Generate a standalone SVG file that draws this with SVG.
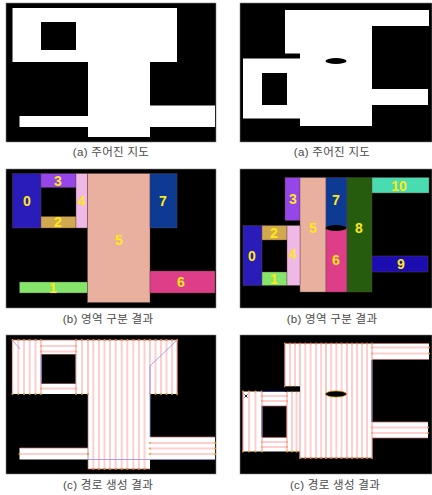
<svg xmlns="http://www.w3.org/2000/svg" width="432" height="495" viewBox="0 0 432 495">
<defs>
<filter id="soft" x="-2%" y="-2%" width="104%" height="104%"><feGaussianBlur stdDeviation="0.35"/></filter>
<marker id="dot" markerUnits="userSpaceOnUse" markerWidth="4" markerHeight="4" refX="2" refY="2"><circle cx="2" cy="2" r="1" fill="#e8a020"/></marker>
</defs>
<style>
.bg{fill:#000;stroke:#888;stroke-width:.6}
.w{fill:#fff}
.k{fill:#000}
.cap{font-family:"Liberation Sans","Noto Sans CJK KR",sans-serif;font-size:11.5px;letter-spacing:.3px;fill:#4a4a4a;text-anchor:middle}
.n{font-family:"Liberation Sans",sans-serif;font-size:14px;font-weight:bold;fill:#ffe81a;text-anchor:middle}
.r{stroke:#5a4040;stroke-width:.4}
.p{fill:none;stroke:#ffcfcf;stroke-width:2;marker-start:url(#dot);marker-mid:url(#dot);marker-end:url(#dot)}
.s{fill:none;stroke:#ffa4a4;stroke-width:1.2;marker-start:url(#dot);marker-mid:url(#dot);marker-end:url(#dot)}
.e{fill:none;stroke:#c06060;stroke-width:.7}
.b{fill:none;stroke:#8a8aee;stroke-width:.8}
.d{fill:none;stroke:#30308a;stroke-width:.9}
</style>
<rect width="432" height="495" fill="#fff"/>
<g id="map-a-left" filter="url(#soft)">
<rect class="bg" x="6" y="3" width="210" height="139"/>
<path class="w" d="M12.500 8H177V62H150V105.500H215V127H150V137H88V127H19.500V116H88V62H12.500Z"/>
<rect class="k" x="41" y="22" width="35" height="28"/>
</g>
<g id="map-a-right" filter="url(#soft)">
<rect class="bg" x="240" y="3" width="192" height="139"/>
<path class="w" d="M285 10H429V26H372V89H428V105H372V126H300V118.500H243V58.500H300V53.500H285Z"/>
<rect class="k" x="262" y="73" width="25" height="32"/>
<ellipse class="k" cx="336" cy="61" rx="10.500" ry="3"/>
</g>
<text class="cap" x="111" y="156">(a) 주어진 지도</text>
<text class="cap" x="332" y="156">(a) 주어진 지도</text>
<g id="regions-left" filter="url(#soft)">
<rect class="bg" x="6" y="169" width="210" height="139"/>
<rect class="r" fill="#2a1fb8" x="12.500" y="173.500" width="28.500" height="54.500"/>
<rect class="r" fill="#9645e8" x="41" y="173.500" width="35" height="14"/>
<rect class="r" fill="#d2a94f" x="41" y="216.500" width="35" height="11.500"/>
<rect class="r" fill="#efb8e6" x="76" y="173.500" width="11.500" height="54.500"/>
<rect class="r" fill="#e9b0a0" x="87.500" y="173.500" width="62.500" height="129"/>
<rect class="r" fill="#0e3a94" x="150" y="173.500" width="27" height="54.500"/>
<rect class="r" fill="#de3c88" x="150" y="271" width="65" height="22"/>
<rect class="r" fill="#84e56b" x="19.500" y="282" width="68" height="11"/>
</g>
<g id="labels-left">
<text class="n" x="27" y="206">0</text><text class="n" x="58" y="186">3</text><text class="n" x="58" y="227">2</text><text class="n" x="81.500" y="206">4</text><text class="n" x="119" y="245">5</text><text class="n" x="163" y="206">7</text><text class="n" x="53" y="293">1</text><text class="n" x="181" y="287">6</text>
</g>
<g id="regions-right" filter="url(#soft)">
<rect class="bg" x="240" y="169" width="192" height="139"/>
<rect class="r" fill="#9645e8" x="285" y="177.500" width="15" height="43"/>
<rect class="r" fill="#e9b0a0" x="300" y="177.500" width="26" height="114.500"/>
<rect class="r" fill="#0e3a94" x="326" y="177.500" width="21" height="50.500"/>
<rect class="r" fill="#de3c88" x="326" y="228" width="21" height="64"/>
<rect class="r" fill="#255c0c" x="347" y="177.500" width="25" height="114.500"/>
<rect class="r" fill="#48dcb0" x="372" y="177.500" width="57" height="15.500"/>
<rect class="r" fill="#1e08b0" x="372" y="256" width="56" height="16"/>
<rect class="r" fill="#2a1fb8" x="243" y="225.500" width="19" height="60"/>
<rect class="r" fill="#d2a94f" x="262" y="225.500" width="25" height="14.500"/>
<rect class="r" fill="#84e56b" x="262" y="272" width="25" height="13.500"/>
<rect class="r" fill="#efb8e6" x="287" y="225.500" width="13" height="60"/>
<ellipse class="k" cx="336" cy="228" rx="10.500" ry="3"/>
</g>
<g id="labels-right">
<text class="n" x="293" y="204">3</text><text class="n" x="313" y="233">5</text><text class="n" x="336" y="205">7</text><text class="n" x="359" y="233">8</text><text class="n" x="399" y="191">10</text><text class="n" x="274" y="238">2</text><text class="n" x="292.500" y="259">4</text><text class="n" x="274" y="284">1</text><text class="n" x="252" y="261">0</text><text class="n" x="336" y="265">6</text><text class="n" x="401" y="269">9</text>
</g>
<text class="cap" x="108" y="323">(b) 영역 구분 결과</text>
<text class="cap" x="332" y="323">(b) 영역 구분 결과</text>
<g id="paths-left" filter="url(#soft)">
<rect class="bg" x="6" y="335" width="210" height="139"/>
<path class="w" d="M12.500 340H177V394H150V437H215V459.500H150V469H88V459.500H19.500V448H88V394H12.500Z"/>
<path class="p" d="M18.300 340V394M24 340V394M29.700 340V394M35.500 340V394M82 340V394M93.300 340V469M99 340V469M104.500 340V469M110 340V469M115.700 340V469M121.700 340V469M127.300 340V469M133.300 340V469M139 340V469M144.500 340V469M155.500 340V394M161 340V394M166.500 340V394M172 340V394M41 346H76M41 351.500H76M41 388.500H76M19.500 454H88M150 443H215M150 448.500H215M150 454H215"/>
<path class="s" d="M12.500 340V394M41 340V394M76 340V394M88 340V394M150 340V394M177 340V394"/>
<path class="e" d="M12.500 340H177M41 354.500H76M41 383.500H76M19.500 448H88M150 437H215M88 469H150M88 394V469"/>
<rect class="k" x="41.500" y="354.500" width="34" height="29"/>
<path class="b" d="M13 341L20 349M150 366L176 341M150 366V437M41 355V383M88 459.500H215"/>
</g>
<g id="paths-right" filter="url(#soft)">
<rect class="bg" x="240" y="335" width="192" height="139"/>
<path class="w" d="M285 343.500H429V359.500H372V422H428V438H372V458H300V451.500H243V391.500H300V386.500H285Z"/>
<rect class="k" x="262" y="406" width="25" height="31.500"/>
<path class="p" d="M290 343.500V386.500M295 343.500V386.500M249 391.500V451.500M255.500 391.500V451.500M292 391.500V451.500M296.500 391.500V451.500M305.300 343.500V458M310.600 343.500V458M316 343.500V458M321.200 343.500V458M331.200 343.500V458M336.400 343.500V458M341.600 343.500V458M352 343.500V458M357 343.500V458M362 343.500V458M367 343.500V458M372 347.500H429M372 353.500H429M372 427.500H428M372 433H428M262 396H287M262 401H287M262 442H287M262 447H287"/>
<path class="s" d="M243 391.500V451.500M262 391.500V451.500M287 391.500V451.500M285 343.500V386.500M300 343.500V458M326 343.500V458M347 343.500V458M372 343.500V458"/>
<path class="e" d="M285 343.500H429M372 359.500H429M372 422H428M372 438H428M262 406H287M262 437.500H287M300 458H372"/>
<path class="d" d="M262 391.500H287M372 360V422M262 406V437"/>
<rect class="k" x="285" y="386.500" width="15" height="5"/>
<ellipse cx="336" cy="394" rx="10.500" ry="3" fill="#000" stroke="#b08010" stroke-width=".8"/>
<path d="M244.500 394.500l3 3m0-3l-3 3" stroke="#222" stroke-width="1" fill="none"/>
</g>
<text class="cap" x="108" y="489">(c) 경로 생성 결과</text>
<text class="cap" x="335" y="489">(c) 경로 생성 결과</text>
</svg>
